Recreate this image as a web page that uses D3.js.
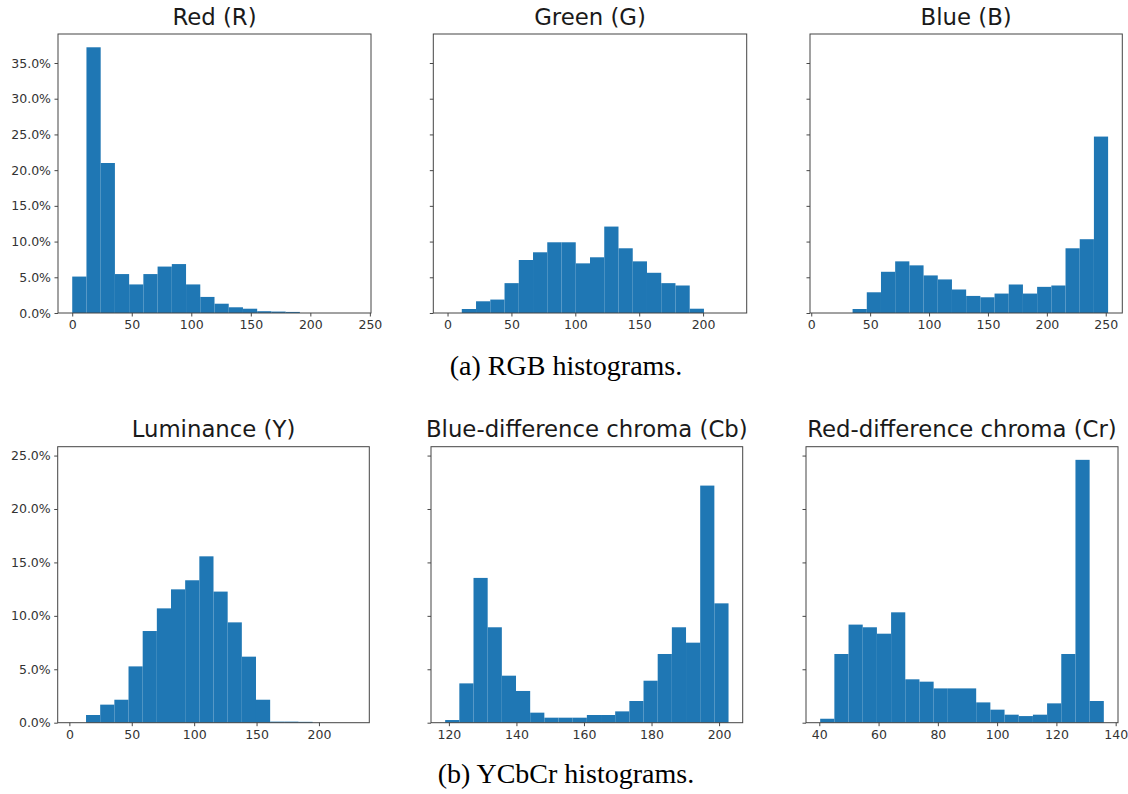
<!DOCTYPE html>
<html>
<head>
<meta charset="utf-8">
<script src="https://cdn.jsdelivr.net/npm/d3@7"></script>
<style>
  body { margin: 0; background: #fff; }
  text { font-family: "DejaVu Sans", sans-serif; }
</style>
</head>
<body>
<script>
// panel titles
const titles = ["Red (R)", "Green (G)", "Blue (B)",
  "Luminance (Y)", "Blue-difference chroma (Cb)", "Red-difference chroma (Cr)"];

// data range (min, max) of each channel, split in 20 equal bins
const ranges = [[0, 239], [0, 223], [11, 252], [2, 229], [118.9, 202.8], [40.3, 136]];

// percentage of pixels in each bin
const redPct = [5.1, 37.2, 21.0, 5.45, 4.0, 5.45, 6.5, 6.85, 4.0, 2.25,
  1.3, 0.8, 0.6, 0.25, 0.2, 0.15, 0, 0, 0, 0];
const greenPct = [0, 0.56, 1.64, 1.88, 4.18, 7.42, 8.5, 9.9, 9.9, 6.95,
  7.8, 12.1, 9.06, 7.23, 5.63, 4.18, 3.85, 0.6, 0, 0];
const bluePct = [0, 0, 0.56, 2.9, 5.77, 7.23, 6.67, 5.26, 4.7, 3.29,
  2.39, 2.2, 2.72, 3.99, 2.72, 3.66, 3.85, 9.06, 10.33, 24.7];
const lumPct = [0, 0.72, 1.69, 2.15, 5.27, 8.58, 10.7, 12.48, 13.33, 15.57,
  12.27, 9.39, 6.18, 2.15, 0.1, 0.1, 0.08, 0, 0, 0];
const cbPct = [0.25, 3.68, 13.55, 8.93, 4.4, 2.97, 0.94, 0.47, 0.47, 0.47,
  0.72, 0.72, 1.06, 2.03, 3.93, 6.43, 8.93, 7.49, 22.19, 11.17];
const crPct = [0.37, 6.43, 9.18, 8.93, 8.33, 10.33, 4.06, 3.84, 3.21, 3.21,
  3.21, 1.9, 1.22, 0.75, 0.62, 0.75, 1.81, 6.43, 24.6, 2.03];

// tick labels
const xTicks = [
  [0, 50, 100, 150, 200, 250],
  [0, 50, 100, 150, 200],
  [0, 50, 100, 150, 200, 250],
  [0, 50, 100, 150, 200],
  [120, 140, 160, 180, 200],
  [40, 60, 80, 100, 120, 140]
];
const yTicksTop = [0, 5, 10, 15, 20, 25, 30, 35];
const yTicksBottom = [0, 5, 10, 15, 20, 25];
const captions = ["(a) RGB histograms.", "(b) YCbCr histograms."];

const series = [redPct, greenPct, bluePct, lumPct, cbPct, crPct];

const W = 1128, H = 794;
const svg = d3.select("body").append("svg")
    .attr("width", W)
    .attr("height", H);

// frame boxes (left, right) per column and (top, bottom) per row
const cols = [[[58, 371], [433.3, 746.7], [810, 1122.3]],
              [[57.7, 369.3], [431, 742.7], [806, 1118]]];
const rows = [[34, 313], [446.7, 722.7]];
const capY = [375, 783];

const blue = "#1f77b4";

[0, 1].forEach(r => {
  const rowData = series.slice(r * 3, r * 3 + 3);
  const yMax = d3.max(rowData.flat()) * 1.05;
  const [top, bottom] = rows[r];
  const y = d3.scaleLinear().domain([0, yMax]).range([bottom, top]);
  const yTicks = r === 0 ? yTicksTop : yTicksBottom;

  [0, 1, 2].forEach(c => {
    const k = r * 3 + c;
    const [left, right] = cols[r][c];
    const [lo, hi] = ranges[k];
    const span = hi - lo;
    const bw = span / 20;
    const x = d3.scaleLinear()
        .domain([lo - 0.05 * span, hi + 0.05 * span])
        .range([left, right]);

    const g = svg.append("g");

    const bins = series[k].map((v, i) => ({ x0: lo + i * bw, x1: lo + (i + 1) * bw, v: v }));

    g.selectAll("rect.bar")
        .data(bins.filter(d => d.v > 0))
        .enter().append("rect")
        .attr("class", "bar")
        .attr("x", d => x(d.x0))
        .attr("width", d => x(d.x1) - x(d.x0))
        .attr("y", d => y(d.v))
        .attr("height", d => y(0) - y(d.v))
        .attr("fill", blue);

    // axes
    const xAxis = g.append("g")
        .attr("transform", `translate(0,${bottom})`)
        .call(d3.axisBottom(x).tickValues(xTicks[k]).tickSize(3.5).tickPadding(3.5));
    const yAxis = g.append("g")
        .attr("transform", `translate(${left},0)`)
        .call(d3.axisLeft(y).tickValues(yTicks).tickSize(3.5).tickPadding(3.5)
          .tickFormat(d => c === 0 ? d.toFixed(1) + "%" : ""));

    [xAxis, yAxis].forEach(a => {
      a.select(".domain").remove();
      a.selectAll("line").attr("stroke", "#333").attr("stroke-width", 0.9);
      a.selectAll("text")
          .attr("fill", "#333")
          .style("font-size", "12.5px")
          .style("font-family", "DejaVu Sans, sans-serif");
    });

    // frame
    g.append("rect")
        .attr("x", left)
        .attr("y", top)
        .attr("width", right - left)
        .attr("height", bottom - top)
        .attr("fill", "none")
        .attr("stroke", "#444")
        .attr("stroke-width", 1);

    g.append("text")
        .attr("x", (left + right) / 2)
        .attr("y", top - 9.5)
        .attr("text-anchor", "middle")
        .attr("fill", "#1a1a1a")
        .style("font-size", "22.8px")
        .text(titles[k]);
  });

  svg.append("text")
      .attr("x", 566)
      .attr("y", capY[r])
      .attr("text-anchor", "middle")
      .attr("fill", "#000")
      .style("font-family", "'Liberation Serif', serif")
      .style("font-size", "28px")
      .text(captions[r]);
});
</script>
</body>
</html>
